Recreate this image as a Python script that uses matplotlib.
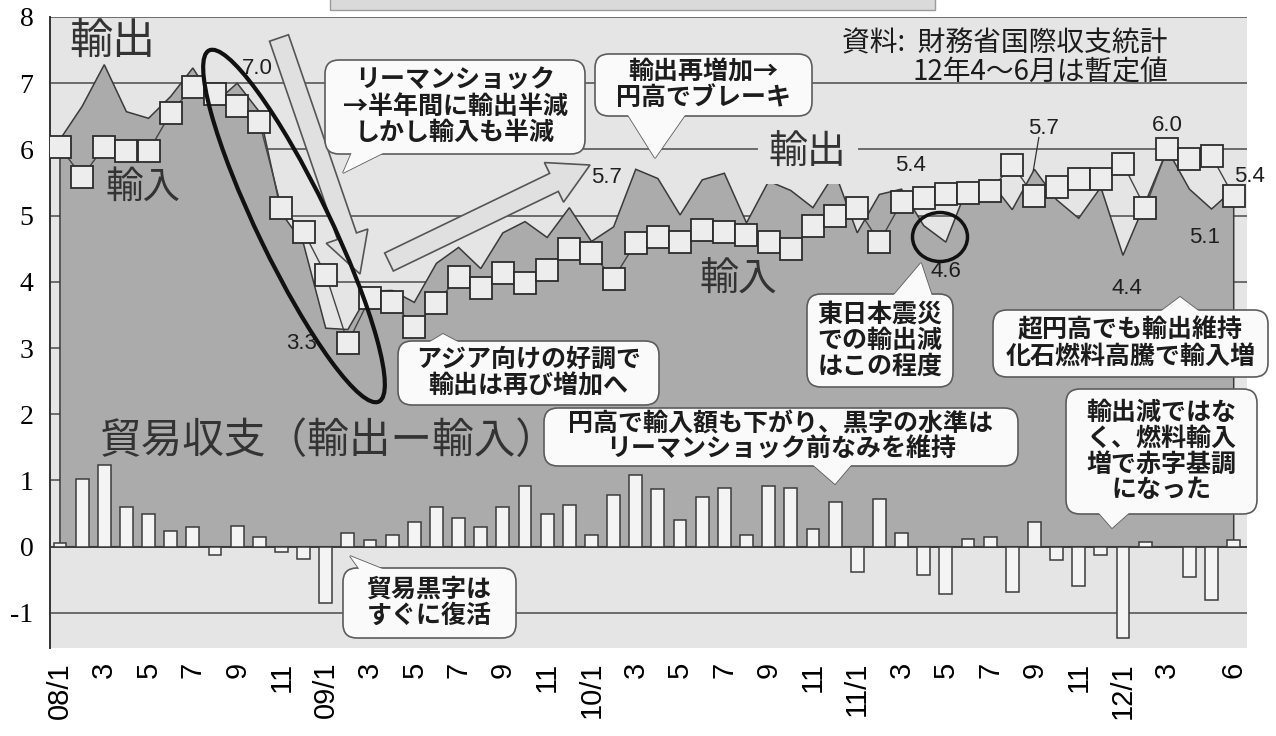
import numpy as np
import matplotlib.pyplot as plt
from matplotlib.patches import Ellipse, FancyArrow, FancyBboxPatch, Polygon, Rectangle
from matplotlib.transforms import IdentityTransform

plt.rcParams['font.family'] = ['Noto Sans CJK JP', 'DejaVu Sans']
plt.rcParams['axes.unicode_minus'] = False

W, H = 1276, 736

# 月次データ 2008/1 ～ 2012/6 (兆円)
months = np.arange(54)
exports = [6.15, 6.65, 7.28, 6.57, 6.47, 6.80, 7.23, 6.70, 7.00, 6.57,
           5.04, 4.57, 3.30, 3.28, 3.86, 3.87, 3.69, 4.28, 4.52, 4.20,
           4.74, 4.91, 4.67, 5.12, 4.61, 4.83, 5.70, 5.56, 5.01, 5.54,
           5.64, 4.89, 5.52, 5.38, 5.12, 5.65, 4.74, 5.32, 5.40, 4.85,
           4.60, 5.45, 5.52, 5.09, 5.70, 5.24, 4.96, 5.43, 4.40, 5.19,
           6.00, 5.40, 5.10, 5.40]
imports = [6.03, 5.59, 6.04, 5.97, 5.97, 6.55, 6.95, 6.83, 6.65, 6.42,
           5.12, 4.76, 4.11, 3.08, 3.76, 3.70, 3.32, 3.68, 4.08, 3.90,
           4.14, 3.99, 4.18, 4.49, 4.43, 4.05, 4.59, 4.68, 4.60, 4.79,
           4.76, 4.71, 4.60, 4.49, 4.85, 5.00, 5.12, 4.60, 5.20, 5.27,
           5.32, 5.34, 5.37, 5.77, 5.29, 5.44, 5.56, 5.56, 5.78, 5.12,
           6.00, 5.86, 5.90, 5.29]
balance = [0.05, 1.02, 1.24, 0.60, 0.49, 0.24, 0.30, -0.13, 0.31, 0.15,
           -0.08, -0.19, -0.85, 0.20, 0.10, 0.17, 0.37, 0.60, 0.44, 0.30,
           0.60, 0.92, 0.49, 0.63, 0.18, 0.78, 1.09, 0.87, 0.41, 0.75,
           0.89, 0.18, 0.92, 0.89, 0.27, 0.68, -0.38, 0.72, 0.20, -0.43,
           -0.72, 0.11, 0.15, -0.68, 0.38, -0.20, -0.60, -0.13, -1.38, 0.07,
           0.00, -0.46, -0.80, 0.10]

tick_pos = [0, 2, 4, 6, 8, 10, 12, 14, 16, 18, 20, 22, 24, 26, 28, 30, 32, 34,
            36, 38, 40, 42, 44, 46, 48, 50, 53]
tick_labels = ['08/1', '3', '5', '7', '9', '11', '09/1', '3', '5', '7', '9', '11',
               '10/1', '3', '5', '7', '9', '11', '11/1', '3', '5', '7', '9', '11',
               '12/1', '3', '6']

# 値ラベルを付ける月 (index, dx, dy)
value_marks = [(8, 0.89, 0.22), (12, -1.07, -0.23), (26, -1.3, -0.13),
               (38, 0.4, 0.36), (40, 0.0, -0.45), (44, 0.4, 0.61),
               (48, 0.2, -0.5), (50, 0.0, 0.36), (52, -0.3, -0.43),
               (53, 0.7, 0.19)]

BG = '#e5e5e5'
TXT = dict(color='#1c1c1c', fontweight='bold')

fig = plt.figure(figsize=(W / 100, H / 100), dpi=100)
ax = fig.add_axes([50 / W, 1 - 648 / H, (1247 - 50) / W, (648 - 17) / H])
ax.set_xlim(-0.45, 53.6)
ax.set_ylim(-1.53, 8)
ax.set_facecolor(BG)

for v in range(-1, 9):
    ax.axhline(v, color='#4a4a4a', lw=1.1, zorder=1)

# 輸出 (面)
ax.fill(np.r_[months[0], months, months[-1]], np.r_[0, exports, 0],
        fc='#ababab', ec='#3a3a3a', lw=1.1, zorder=2)
ax.axhline(0, color='#3a3a3a', lw=1.2, zorder=2.5)

# 貿易収支 (棒)
ax.bar(months, balance, width=0.58, color='#f4f4f4', edgecolor='#3c3c3c',
       lw=1.1, zorder=3)

# 輸入 (折れ線 + 四角)
ax.plot(months, imports, color='#444444', lw=1.0, marker='s', ms=16,
        mfc='#ededed', mec='#2c2c2c', mew=1.3, zorder=5)

for s in ['top', 'right', 'bottom']:
    ax.spines[s].set_visible(False)
ax.spines['left'].set_color('#333333')
ax.spines['left'].set_linewidth(1.4)

ax.set_yticks(range(-1, 9))
ax.tick_params(axis='y', length=0, pad=12, labelsize=20)
for lab in ax.get_yticklabels():
    lab.set_fontfamily('Liberation Serif')
ax.set_xticks(tick_pos, tick_labels, rotation=90)
ax.tick_params(axis='x', length=0, pad=10, labelsize=21)
for lab in ax.get_xticklabels():
    lab.set_fontfamily('Liberation Sans')

# 値ラベル
for i, dx, dy in value_marks:
    ax.text(i + dx, exports[i] + dy, f'{exports[i]:.1f}', ha='center', va='center',
            fontsize=16, family='Liberation Sans', color='#1f1f1f', zorder=8,
            clip_on=False)
ax.plot([44.2, 43.95], [6.18, 5.68], color='#333333', lw=0.9, zorder=8)


# 大きな見出し
def label(x, y, s, fs, **kw):
    ax.text((x - 60) / 22.15, (547 - y) / 66.2, s, ha='center', va='center',
            fontsize=fs, color='#333333', zorder=6, clip_on=False, **kw)


label(112, 42, '輸出', 31)
label(143, 188, '輸入', 27)
label(808, 153, '輸出', 28, bbox=dict(fc=BG, ec='none', pad=8))
label(739, 280, '輸入', 28)
label(329, 442, '貿易収支（輸出ー輸入）', 30)
ax.text((1168 - 60) / 22.15, (547 - 58) / 66.2, '資料:  財務省国際収支統計\n12年4～6月は暫定値',
        ha='right', va='center', multialignment='right', fontsize=20,
        linespacing=0.95, zorder=6, color='#1c1c1c')

# 矢印
ident = IdentityTransform()
for (x0, y0), (x1, y1) in [((279, 38), (360, 274)), ((389, 262), (590, 165))]:
    ax.add_patch(FancyArrow(x0, H - y0, x1 - x0, y0 - y1, width=20, head_width=44,
                            head_length=40, length_includes_head=True,
                            transform=ident, fc='#e0e0e0', ec='#555555', lw=1.2,
                            zorder=4, clip_on=False))


# 吹き出し
def callout(box, tail, text, fs=18, lsp=1.1):
    x0, y0, x1, y1 = box
    pts = np.array([(x, H - y) for x, y in tail], dtype=float)
    kw = dict(transform=ident, fc='#fafafa', ec='#5c5c5c', lw=1.2)
    fig.add_artist(Polygon(pts, closed=True, zorder=20, **kw))
    fig.add_artist(FancyBboxPatch((x0, H - y1), x1 - x0, y1 - y0,
                                  boxstyle='round,pad=0,rounding_size=14',
                                  zorder=21, **kw))
    tip = pts[1]
    cover = pts.copy()
    for k in (0, 2):
        d = pts[k] - tip
        cover[k] = pts[k] + 4 * d / np.hypot(*d)
    fig.add_artist(Polygon(cover, closed=True, transform=ident, fc='#fafafa',
                           ec='none', zorder=22))
    fig.text((x0 + x1) / 2 / W, 1 - (y0 + y1) / 2 / H, text, ha='center',
             va='center', fontsize=fs, linespacing=lsp, zorder=23, **TXT)


callout((325, 60, 585, 154), [(352, 152), (343, 173), (385, 152)],
        'リーマンショック\n→半年間に輸出半減\nしかし輸入も半減')
callout((595, 54, 812, 116), [(628, 115), (655, 158), (685, 115)],
        '輸出再増加→\n円高でブレーキ')
callout((398, 341, 659, 405), [(428, 343), (443, 334), (460, 343)],
        'アジア向けの好調で\n輸出は再び増加へ')
callout((544, 408, 1018, 466), [(812, 464), (835, 484), (852, 464)],
        '円高で輸入額も下がり、黒字の水準は\nリーマンショック前なみを維持')
callout((807, 294, 953, 387), [(893, 296), (921, 263), (932, 296)],
        '東日本震災\nでの輸出減\nはこの程度')
callout((993, 310, 1268, 377), [(1160, 312), (1180, 297), (1200, 312)],
        '超円高でも輸出維持\n化石燃料高騰で輸入増')
callout((1066, 389, 1257, 514), [(1098, 512), (1112, 528), (1130, 512)],
        '輸出減ではな\nく、燃料輸入\n増で赤字基調\nになった')
callout((343, 568, 516, 638), [(360, 570), (350, 556), (385, 570)],
        '貿易黒字は\nすぐに復活')

# 楕円と丸
fig.add_artist(Ellipse((294, H - 226), 390, 72, angle=-64.2, transform=ident,
                       fc='none', ec='#111111', lw=3.0, zorder=30))
fig.add_artist(Ellipse((940, H - 237), 55, 49, transform=ident,
                       fc='none', ec='#111111', lw=2.5, zorder=30))

# 上部タイトル枠の一部
fig.add_artist(Rectangle((330, H - 10), 605, 20, transform=ident,
                         fc='#dadada', ec='#9a9a9a', lw=1.0, zorder=1))

fig.savefig('out.png', dpi=100)
